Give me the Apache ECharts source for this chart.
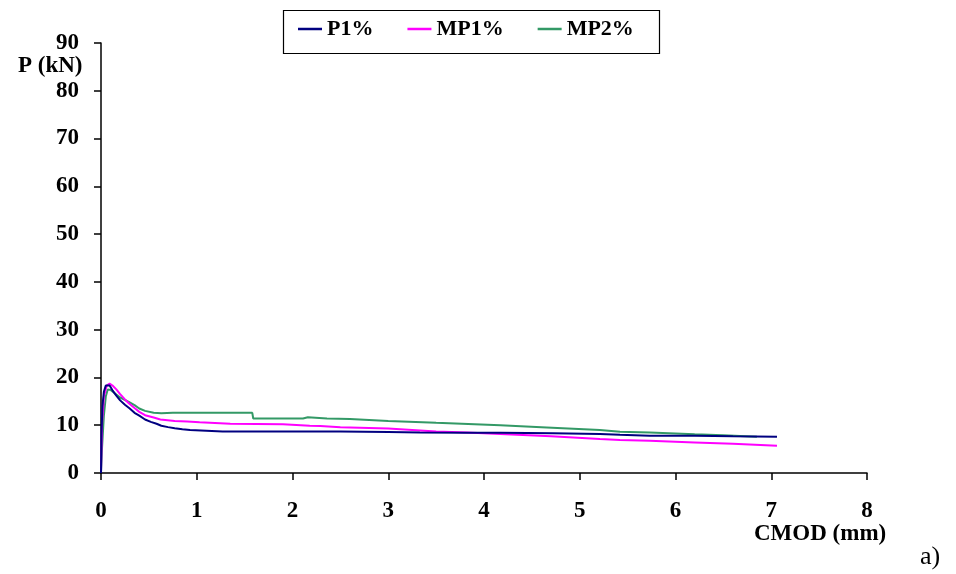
<!DOCTYPE html>
<html>
<head>
<meta charset="utf-8">
<script src="https://cdn.jsdelivr.net/npm/echarts@6/dist/echarts.min.js"></script>
<style>
  html, body { margin: 0; padding: 0; background: #fff; }
  #chart { width: 956px; height: 574px; }
</style>
</head>
<body>
<div id="chart"></div>
<script>
// Load vs crack mouth opening displacement for three mixes
const seriesNames = ['P1%', 'MP1%', 'MP2%'];
const seriesColors = ['#000080', '#FF00FF', '#339966'];

const p1X = [0, 0.005, 0.015, 0.03, 0.05, 0.07, 0.09, 0.12, 0.16, 0.2, 0.25, 0.3, 0.35, 0.4, 0.46, 0.52, 0.58, 0.63, 0.7, 0.77, 0.85, 0.93, 1.1, 1.27, 1.6, 2.0, 2.29, 2.5, 3.0, 3.33, 3.8, 4.17, 4.72, 5.21, 5.42, 5.73, 6.2, 6.6, 7.06];
const p1Y = [0, 8, 14, 17, 18.3, 18.6, 18.3, 17.3, 16.2, 15.2, 14.3, 13.5, 12.6, 12.0, 11.2, 10.7, 10.3, 9.9, 9.6, 9.35, 9.15, 9.0, 8.85, 8.7, 8.7, 8.7, 8.7, 8.7, 8.6, 8.5, 8.45, 8.4, 8.3, 8.15, 8.0, 7.8, 7.8, 7.7, 7.6];

const mp1X = [0, 0.01, 0.03, 0.06, 0.09, 0.12, 0.16, 0.2, 0.25, 0.29, 0.35, 0.4, 0.46, 0.55, 0.62, 0.77, 0.9, 1.03, 1.35, 1.9, 2.18, 2.29, 2.5, 3.0, 3.5, 3.82, 4.17, 4.7, 5.21, 5.42, 5.73, 6.2, 6.6, 7.06];
const mp1Y = [0, 10, 16, 18.3, 18.7, 18.3, 17.5, 16.5, 15.4, 14.6, 13.6, 12.8, 12.1, 11.6, 11.2, 10.9, 10.8, 10.6, 10.3, 10.2, 9.9, 9.85, 9.55, 9.3, 8.7, 8.5, 8.15, 7.7, 7.1, 6.9, 6.75, 6.4, 6.1, 5.7];

const mp2X = [0, 0.01, 0.03, 0.05, 0.07, 0.1, 0.15, 0.2, 0.29, 0.35, 0.4, 0.46, 0.55, 0.63, 0.75, 1.0, 1.3, 1.58, 1.59, 2.11, 2.16, 2.36, 2.6, 3.0, 3.5, 4.17, 4.6, 5.21, 5.42, 5.73, 6.2, 6.5, 6.85];
const mp2Y = [0, 5, 12, 16, 17.5, 17.4, 16.6, 15.8, 14.9, 14.2, 13.5, 13.0, 12.6, 12.5, 12.6, 12.6, 12.6, 12.6, 11.4, 11.4, 11.65, 11.4, 11.3, 10.9, 10.5, 10.0, 9.6, 9.0, 8.65, 8.5, 8.1, 7.9, 7.6];

const xTicks = { min: 0, max: 8, interval: 1 };
const yTicks = { min: 0, max: 90, interval: 10 };

const pairs = (xs, ys) => xs.map((x, i) => [x, ys[i]]);
const seriesData = [pairs(p1X, p1Y), pairs(mp1X, mp1Y), pairs(mp2X, mp2Y)];

const FONT = '"Liberation Serif", "Times New Roman", serif';
const chart = echarts.init(document.getElementById('chart'), null, { renderer: 'canvas' });

const axisCommon = {
  axisLine: { show: true, lineStyle: { color: '#000', width: 1.5 } },
  axisTick: { show: true, inside: false, length: 7, lineStyle: { color: '#000', width: 1.5 } },
  splitLine: { show: false },
  axisLabel: { color: '#000', fontFamily: FONT, fontWeight: 'bold', fontSize: 23 }
};

chart.setOption({
  animation: false,
  backgroundColor: '#fff',
  grid: { left: 101, right: 89, top: 43, bottom: 101, containLabel: false },
  xAxis: Object.assign({}, axisCommon, {
    type: 'value', min: xTicks.min, max: xTicks.max, interval: xTicks.interval,
    axisLabel: Object.assign({}, axisCommon.axisLabel, { margin: 27 })
  }),
  yAxis: Object.assign({}, axisCommon, {
    type: 'value', min: yTicks.min, max: yTicks.max, interval: yTicks.interval,
    axisLabel: Object.assign({}, axisCommon.axisLabel, { margin: 22 })
  }),
  legend: {
    left: 298, top: 18, padding: 0, itemGap: 34,
    icon: 'rect', itemWidth: 24, itemHeight: 2.5,
    textStyle: { color: '#000', fontFamily: FONT, fontWeight: 'bold', fontSize: 22 },
    data: seriesNames
  },
  graphic: [
    { type: 'rect', left: 281, top: 8, shape: { width: 376, height: 43 },
      style: { fill: 'none', stroke: '#000', lineWidth: 1.2 }, z: -1 },
    { type: 'text', left: 18, top: 55,
      style: { text: 'P (kN)', fill: '#000', font: 'bold 23px ' + FONT } },
    { type: 'text', left: 754, top: 523,
      style: { text: 'CMOD (mm)', fill: '#000', font: 'bold 23px ' + FONT } },
    { type: 'text', left: 920, top: 544,
      style: { text: 'a)', fill: '#000', font: '26px ' + FONT } }
  ],
  series: seriesNames.map((name, i) => ({
    name: name,
    type: 'line',
    data: seriesData[i],
    showSymbol: false,
    smooth: false,
    color: seriesColors[i],
    lineStyle: { color: seriesColors[i], width: 2 },
    z: 3 - i
  }))
});
</script>
</body>
</html>
